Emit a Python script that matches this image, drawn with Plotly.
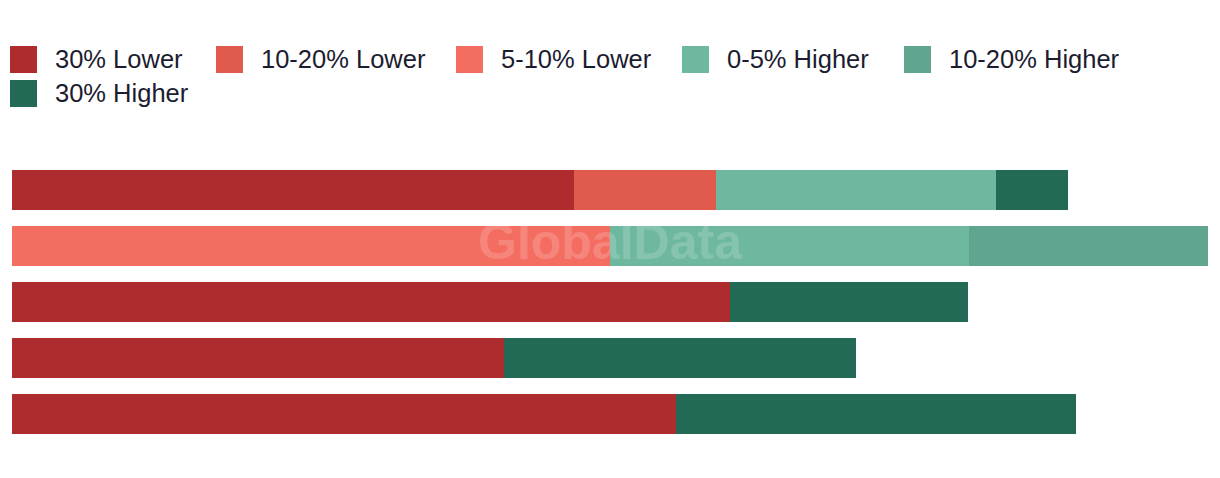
import plotly.graph_objects as go

# ---- data ----
categories = ["Row 1", "Row 2", "Row 3", "Row 4", "Row 5"]
series_names = ["30% Lower", "10-20% Lower", "5-10% Lower", "0-5% Higher", "10-20% Higher", "30% Higher"]
lower_30 = [4.70, 0, 6.00, 4.11, 5.55]
lower_10_20 = [1.19, 0, 0, 0, 0]
lower_5_10 = [0, 5.00, 0, 0, 0]
higher_0_5 = [2.34, 3.00, 0, 0, 0]
higher_10_20 = [0, 2.00, 0, 0, 0]
higher_30 = [0.60, 0, 1.99, 2.95, 3.35]

series_values = [lower_30, lower_10_20, lower_5_10, higher_0_5, higher_10_20, higher_30]
colors = ["#AE2C2E", "#E05A4E", "#F46D61", "#6FB8A0", "#5FA58F", "#226A56"]

# ---- layout constants ----
W, H = 1220, 478
M_L, M_R, M_T, M_B = 12, 12, 162, 36
PLOT_H = H - M_T - M_B
PLOT_W = W - M_L - M_R

def px_x(x):
    return (x - M_L) / PLOT_W

def px_y(y):
    return (H - M_B - y) / PLOT_H

fig = go.Figure()
for name, vals, col in zip(series_names, series_values, colors):
    fig.add_trace(go.Bar(
        y=categories, x=vals, name=name, orientation="h",
        marker=dict(color=col, line=dict(width=0)),
        showlegend=False, hoverinfo="x+name",
    ))

# manual legend (square swatches + labels)
legend_pos = [(10, 46), (216, 46), (456, 46), (682, 46), (904, 46), (10, 80)]
SW = 27
shapes = []
annotations = []
for (lx, ly), name, col in zip(legend_pos, series_names, colors):
    shapes.append(dict(type="rect", xref="paper", yref="paper",
                       x0=px_x(lx), x1=px_x(lx + SW), y0=px_y(ly + SW), y1=px_y(ly),
                       fillcolor=col, line=dict(width=0), layer="above"))
    annotations.append(dict(xref="paper", yref="paper", x=px_x(lx + 43), y=px_y(ly + SW / 2 - 1),
                            xanchor="left", yanchor="middle", showarrow=False, text=name,
                            font=dict(family="Liberation Sans, Arial, sans-serif", size=25.5, color="#1c1c30")))

# watermark
annotations.append(dict(xref="paper", yref="paper", x=px_x(610), y=px_y(242),
                        xanchor="center", yanchor="middle", showarrow=False,
                        text="<b>GlobalData</b>",
                        font=dict(family="Liberation Sans, Arial, sans-serif", size=50,
                                  color="rgba(255,255,255,0.17)")))

fig.update_layout(
    width=W, height=H, barmode="stack", bargap=16 / 56,
    margin=dict(l=M_L, r=M_R, t=M_T, b=M_B, pad=0),
    paper_bgcolor="white", plot_bgcolor="white",
    xaxis=dict(range=[0, 10], visible=False, fixedrange=True),
    yaxis=dict(autorange="reversed", visible=False, fixedrange=True),
    shapes=shapes, annotations=annotations,
)

fig.write_html("out.html", config={"displayModeBar": False})
